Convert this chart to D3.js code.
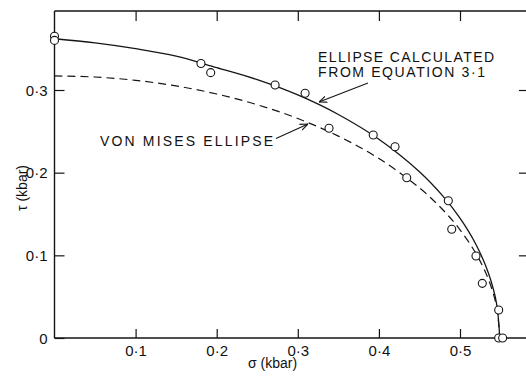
<!DOCTYPE html>
<html>
<head>
<meta charset="utf-8">
<script src="https://cdn.jsdelivr.net/npm/d3@7/dist/d3.min.js"></script>
<style>
  html, body { margin: 0; padding: 0; background: #fff; }
  svg { display: block; }
  text { font-family: "Liberation Sans", Arial, sans-serif; fill: #111; }
</style>
</head>
<body>
<svg id="chart" width="526" height="377"></svg>
<script>
// ---- data (sigma, tau in kbar) ----
const solidSigma = [0, 0.05, 0.10, 0.15, 0.20, 0.25, 0.30, 0.35, 0.40, 0.45, 0.48, 0.50, 0.52, 0.535, 0.545, 0.549];
const solidTau   = [0.362, 0.357, 0.350, 0.341, 0.327, 0.3125, 0.294, 0.2704, 0.2404, 0.2011, 0.1704, 0.1449, 0.1125, 0.0787, 0.0423, 0.0];

const dashSigma = [0, 0.05, 0.10, 0.15, 0.20, 0.25, 0.30, 0.35, 0.40, 0.45, 0.48, 0.50, 0.52, 0.535, 0.545, 0.549];
const dashTau   = [0.317, 0.3157, 0.3117, 0.3049, 0.2952, 0.2822, 0.2655, 0.2442, 0.2171, 0.1816, 0.1539, 0.1309, 0.1016, 0.0711, 0.0382, 0.0];

const pointSigma = [0, 0, 0.1806, 0.1926, 0.272, 0.309, 0.3385, 0.393, 0.4199, 0.4343, 0.4856, 0.4898, 0.5197, 0.5275, 0.5477, 0.5477, 0.5526];
const pointTau   = [0.365, 0.360, 0.332, 0.321, 0.306, 0.296, 0.2537, 0.2456, 0.2314, 0.1939, 0.1661, 0.1315, 0.0992, 0.0661, 0.0339, 0.0, 0.0];

const xTicks = [0.1, 0.2, 0.3, 0.4, 0.5];
const yTicks = [0, 0.1, 0.2, 0.3];
const xTickLabels = ["0·1", "0·2", "0·3", "0·4", "0·5"];
const yTickLabels = ["0", "0·1", "0·2", "0·3"];

const labelSolid = ["ELLIPSE CALCULATED", "FROM EQUATION 3·1"];
const labelDash = "VON MISES ELLIPSE";
const xTitle = "σ (kbar)";
const yTitle = "τ (kbar)";

// ---- scales ----
const svg = d3.select("#chart");
const x = d3.scaleLinear().domain([0, 0.5]).range([54.5, 460]);
const y = d3.scaleLinear().domain([0, 0.3]).range([338, 90]);
const xMax = 0.585, yMax = 0.3955;
const ink = "#151515";

// ---- axes ----
const fmtX = d => xTickLabels[xTicks.indexOf(d)];
const fmtY = d => yTickLabels[yTicks.indexOf(d)];

const gBottom = svg.append("g").attr("transform", `translate(0,${y(0)})`)
  .call(d3.axisBottom(x).tickValues(xTicks).tickFormat(fmtX).tickSize(-9).tickPadding(7).tickSizeOuter(0));
const gTop = svg.append("g").attr("transform", `translate(0,${y(yMax)})`)
  .call(d3.axisTop(x).tickValues(xTicks).tickFormat("").tickSize(-10).tickSizeOuter(0));
const gLeft = svg.append("g").attr("transform", `translate(${x(0)},0)`)
  .call(d3.axisLeft(y).tickValues(yTicks).tickFormat(fmtY).tickSize(-10).tickPadding(7).tickSizeOuter(0));
const gRight = svg.append("g").attr("transform", `translate(${x(xMax)},0)`)
  .call(d3.axisRight(y).tickValues(yTicks.slice(1)).tickFormat("").tickSize(-10).tickSizeOuter(0));

[gBottom, gTop, gLeft, gRight].forEach(g => {
  g.select(".domain").remove();
  g.selectAll(".tick line").attr("stroke", ink).attr("stroke-width", 1.2);
  g.selectAll(".tick text").attr("fill", ink).style("font-size", "15px")
    .style("font-family", "'Liberation Sans', Arial, sans-serif");
});
gLeft.selectAll(".tick text").attr("dy", "0.35em");

// frame lines drawn from scales
svg.append("line").attr("x1", x(0)).attr("x2", x(xMax)).attr("y1", y(0)).attr("y2", y(0))
  .attr("stroke", ink).attr("stroke-width", 1.4);
svg.append("line").attr("x1", x(0)).attr("x2", x(xMax)).attr("y1", y(yMax)).attr("y2", y(yMax))
  .attr("stroke", ink).attr("stroke-width", 1.4);
svg.append("line").attr("x1", x(0)).attr("x2", x(0)).attr("y1", y(0)).attr("y2", y(yMax))
  .attr("stroke", ink).attr("stroke-width", 1.4);

// ---- curves ----
const line = d3.line().x(d => x(d[0])).y(d => y(d[1])).curve(d3.curveCatmullRom.alpha(0.5));
svg.append("path").datum(solidSigma.map((s, i) => [s, solidTau[i]]))
  .attr("d", line).attr("fill", "none").attr("stroke", ink).attr("stroke-width", 1.3);
svg.append("path").datum(dashSigma.map((s, i) => [s, dashTau[i]]))
  .attr("d", line).attr("fill", "none").attr("stroke", ink).attr("stroke-width", 1.2)
  .attr("stroke-dasharray", "8,5");

// ---- points ----
svg.append("g").selectAll("circle").data(pointSigma.map((s, i) => [s, pointTau[i]]))
  .join("circle").attr("cx", d => x(d[0])).attr("cy", d => y(d[1])).attr("r", 4)
  .attr("fill", "#fff").attr("stroke", ink).attr("stroke-width", 1.1);

// ---- annotations ----
svg.append("text").attr("x", 318).attr("y", 62).attr("textLength", 176).attr("lengthAdjust", "spacing")
  .style("font-size", "14px").text(labelSolid[0]);
svg.append("text").attr("x", 318).attr("y", 77).attr("textLength", 167).attr("lengthAdjust", "spacing")
  .style("font-size", "14px").text(labelSolid[1]);
svg.append("text").attr("x", 100).attr("y", 145.5).attr("textLength", 173).attr("lengthAdjust", "spacing")
  .style("font-size", "14px").text(labelDash);

svg.append("defs").append("marker").attr("id", "ah").attr("viewBox", "0 0 10 10")
  .attr("refX", 10).attr("refY", 5).attr("markerWidth", 8).attr("markerHeight", 8)
  .attr("markerUnits", "userSpaceOnUse").attr("orient", "auto")
  .append("path").attr("d", "M0,1 L10,5 L0,9").attr("fill", "none").attr("stroke", ink).attr("stroke-width", 1.4);

svg.append("line").attr("x1", 368).attr("y1", 83).attr("x2", 319).attr("y2", 102)
  .attr("stroke", ink).attr("stroke-width", 1.1).attr("marker-end", "url(#ah)");
svg.append("line").attr("x1", 276).attr("y1", 138.5).attr("x2", 308).attr("y2", 124)
  .attr("stroke", ink).attr("stroke-width", 1.1).attr("marker-end", "url(#ah)");

// ---- axis titles ----
svg.append("text").attr("x", 248).attr("y", 368).style("font-size", "14px").text(xTitle);
svg.append("text").attr("transform", "translate(27,188) rotate(-90)").attr("text-anchor", "middle")
  .style("font-size", "14px").text(yTitle);
</script>
</body>
</html>
